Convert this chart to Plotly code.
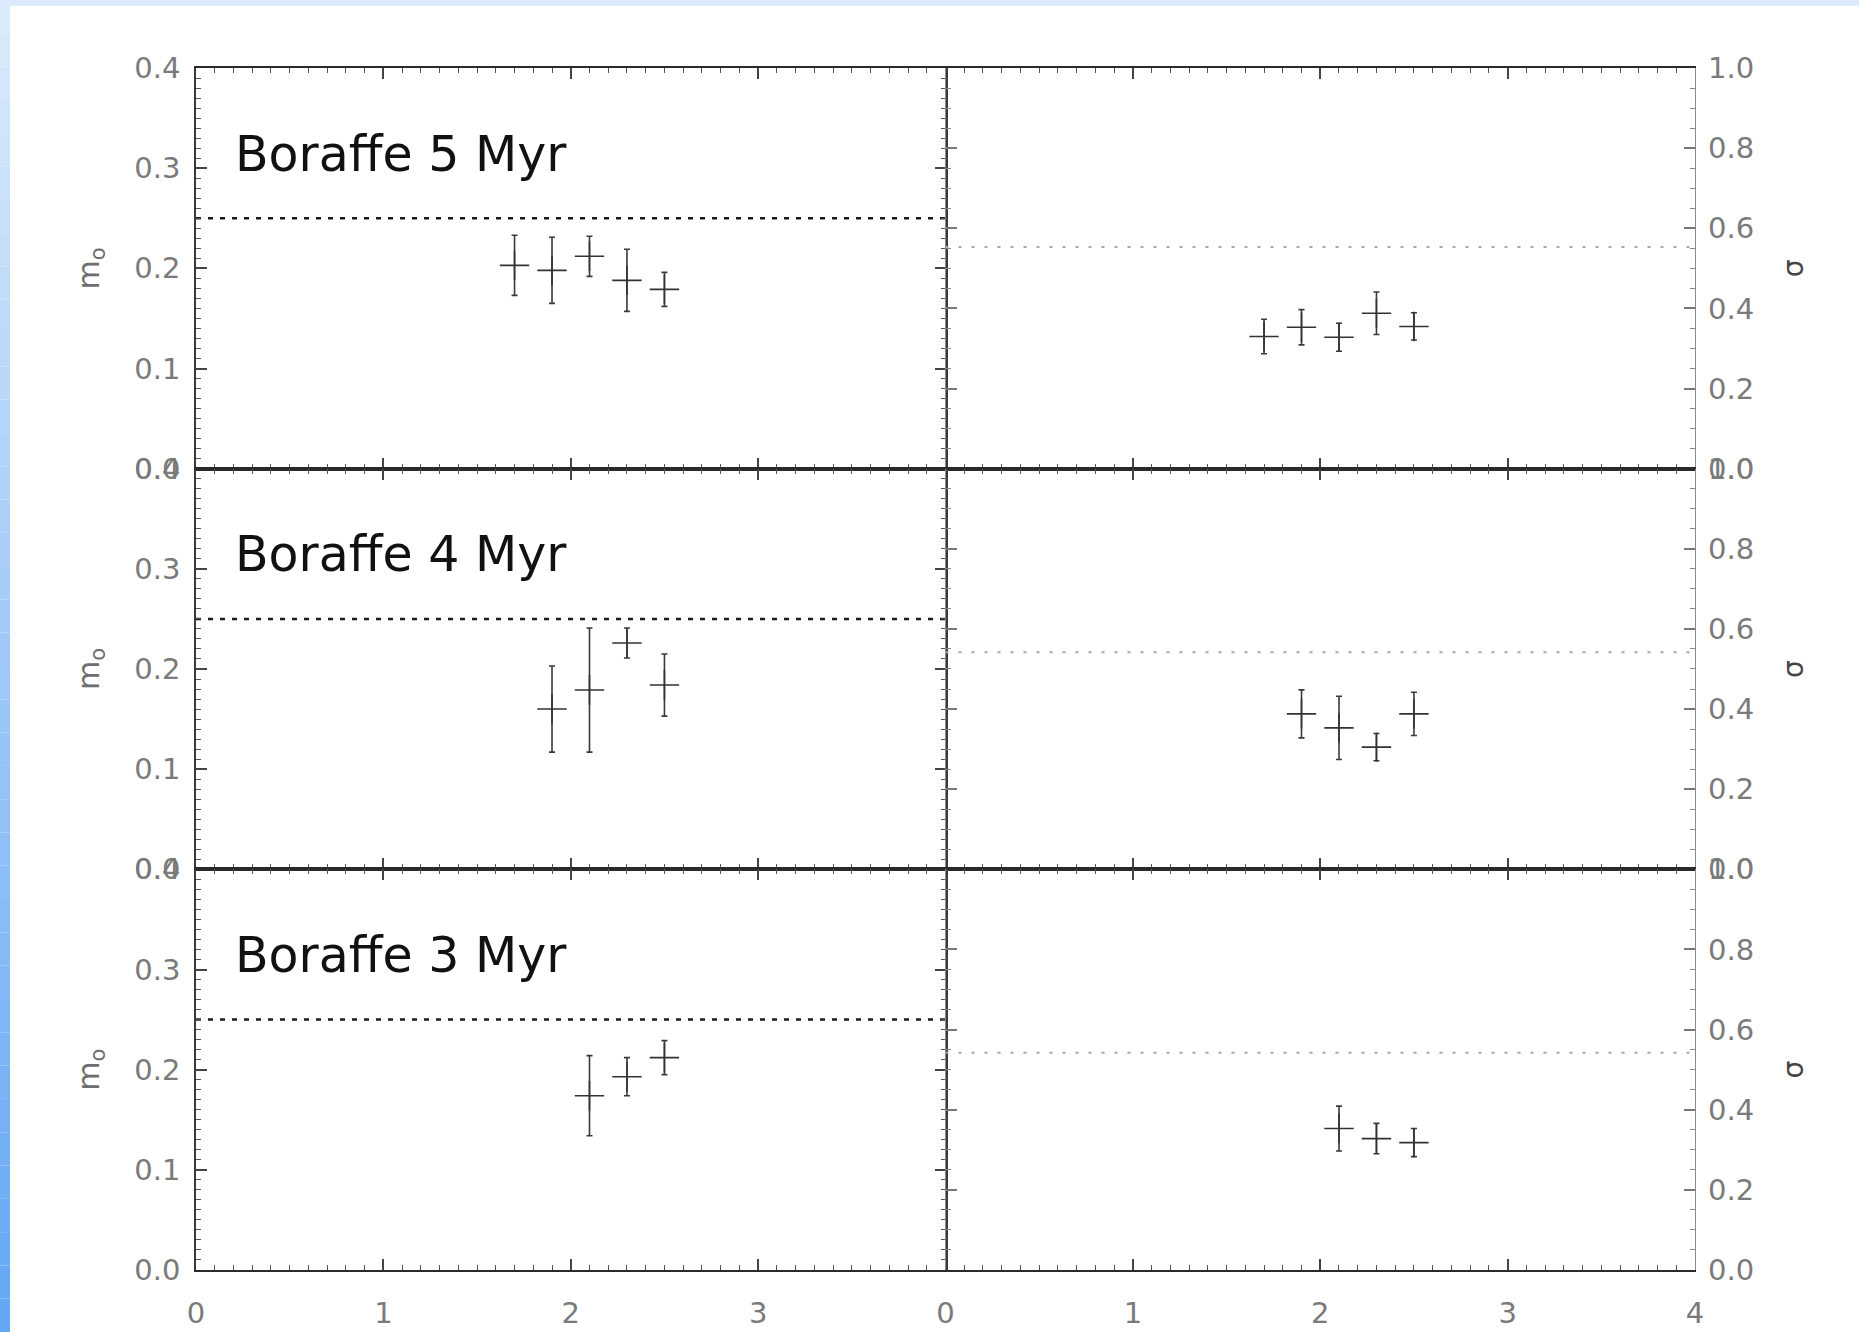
import plotly.graph_objects as go
from plotly.subplots import make_subplots

# ---------------- data ----------------
panel_labels = ["Boraffe 5 Myr", "Boraffe 4 Myr", "Boraffe 3 Myr"]

x_5myr = [1.7, 1.9, 2.1, 2.3, 2.5]
m0_5myr = [0.203, 0.198, 0.212, 0.188, 0.179]
m0_err_5myr = [0.030, 0.033, 0.020, 0.031, 0.017]
sig_5myr = [0.330, 0.353, 0.328, 0.388, 0.355]
sig_err_5myr = [0.043, 0.044, 0.035, 0.053, 0.034]

x_4myr = [1.9, 2.1, 2.3, 2.5]
m0_4myr = [0.160, 0.179, 0.226, 0.184]
m0_err_4myr = [0.043, 0.062, 0.015, 0.031]
sig_4myr = [0.388, 0.353, 0.305, 0.388]
sig_err_4myr = [0.060, 0.079, 0.034, 0.054]

x_3myr = [2.1, 2.3, 2.5]
m0_3myr = [0.174, 0.193, 0.212]
m0_err_3myr = [0.040, 0.019, 0.017]
sig_3myr = [0.353, 0.328, 0.318]
sig_err_3myr = [0.056, 0.038, 0.035]

m0_ref = [0.25, 0.25, 0.25]
sig_ref = [0.553, 0.542, 0.542]

x_range = [0, 4]
m0_range = [0, 0.4]
sig_range = [0, 1.0]
left_xticks = [0, 1, 2, 3]
right_xticks = [0, 1, 2, 3, 4]
m0_title = "m<sub>o</sub>"
sig_title = "σ"

rows = [
    (x_5myr, m0_5myr, m0_err_5myr, sig_5myr, sig_err_5myr),
    (x_4myr, m0_4myr, m0_err_4myr, sig_4myr, sig_err_4myr),
    (x_3myr, m0_3myr, m0_err_3myr, sig_3myr, sig_err_3myr),
]

# ---------------- figure ----------------
W, H = 1859, 1332
ML, MR, MT, MB = 196, 164, 68, 62
PW, PH = W - ML - MR, H - MT - MB

fig = make_subplots(rows=3, cols=2, horizontal_spacing=0, vertical_spacing=0)

DARK = "#2a2a2a"
tickfont = dict(family="DejaVu Sans, sans-serif", size=29, color="#7a7a7a")

for i, (xs, m0, m0e, sg, sge) in enumerate(rows):
    r = i + 1
    fig.add_trace(go.Scatter(x=x_range, y=[m0_ref[i]] * 2, mode="lines",
                             line=dict(color="#1a1a1a", width=2.5, dash="5px,7px"),
                             showlegend=False, hoverinfo="skip"), row=r, col=1)
    fig.add_trace(go.Scatter(x=x_range, y=[sig_ref[i]] * 2, mode="lines",
                             line=dict(color="#a8a8a8", width=2, dash="3px,10px"),
                             showlegend=False, hoverinfo="skip"), row=r, col=2)
    fig.add_trace(go.Scatter(x=xs, y=m0, mode="markers",
                             marker=dict(symbol="cross-thin", size=21, color="#333",
                                         line=dict(color="#333", width=1.6)),
                             error_y=dict(type="data", array=m0e, visible=True,
                                          color="#3a3a3a", thickness=1.6, width=3),
                             showlegend=False), row=r, col=1)
    fig.add_trace(go.Scatter(x=xs, y=sg, mode="markers",
                             marker=dict(symbol="cross-thin", size=21, color="#333",
                                         line=dict(color="#333", width=1.6)),
                             error_y=dict(type="data", array=sge, visible=True,
                                          color="#3a3a3a", thickness=1.6, width=3),
                             showlegend=False), row=r, col=2)

    bottom = (r == 3)
    for c in (1, 2):
        fig.update_xaxes(
            range=x_range, tickmode="array",
            tickvals=left_xticks if c == 1 else right_xticks,
            ticks="inside", ticklen=11, tickwidth=1.5, tickcolor="#444",
            showline=True, linecolor=DARK, linewidth=2, mirror="ticks",
            showgrid=False, zeroline=False, automargin=False,
            minor=dict(dtick=0.1, tick0=0, ticks="inside", ticklen=5,
                       tickwidth=1, tickcolor="#555", showgrid=False),
            showticklabels=bottom, tickfont=tickfont, ticklabelstandoff=16,
            row=r, col=c)
    fig.update_yaxes(
        range=m0_range, dtick=0.1, tick0=0, tickformat=".1f",
        ticks="inside", ticklen=11, tickwidth=1.5, tickcolor="#444",
        showline=True, linecolor="#3a3a3a", linewidth=1.6, mirror="ticks",
        showgrid=False, zeroline=False, automargin=False,
        minor=dict(dtick=0.01, tick0=0, ticks="inside", ticklen=5,
                   tickwidth=1, tickcolor="#555", showgrid=False),
        tickfont=tickfont, ticklabelstandoff=8,
        title=dict(text=m0_title, standoff=26,
                   font=dict(family="DejaVu Sans", size=30, color="#6e6e6e")),
        row=r, col=1)
    fig.update_yaxes(
        range=sig_range, dtick=0.2, tick0=0, tickformat=".1f", side="right",
        ticks="inside", ticklen=11, tickwidth=1.5, tickcolor="#777",
        showline=True, linecolor="#8a8a8a", linewidth=1.4, mirror="ticks",
        showgrid=False, zeroline=False, automargin=False,
        minor=dict(dtick=0.05, tick0=0, ticks="inside", ticklen=5,
                   tickwidth=1, tickcolor="#888", showgrid=False),
        tickfont=tickfont, ticklabelstandoff=6,
        title=dict(text=sig_title, standoff=30,
                   font=dict(family="DejaVu Sans", size=28, color="#444")),
        row=r, col=2)

yl = ["y", "y3", "y5"]
xl = ["x", "x3", "x5"]
for i in range(3):
    fig.add_annotation(x=0.2, y=0.314, xref=xl[i], yref=yl[i], text=panel_labels[i],
                       showarrow=False, xanchor="left", yanchor="middle",
                       font=dict(family="DejaVu Sans", size=49, color="#111"))

def px_x(px):
    return (px - ML) / PW

def px_y(py):
    return (H - MB - py) / PH

shapes = []
shapes.append(dict(type="rect", xref="paper", yref="paper", layer="below",
                   x0=px_x(0), x1=px_x(W), y0=px_y(6), y1=px_y(0),
                   line=dict(width=0), fillcolor="rgb(220,235,251)"))
n = 40
top_c = (218, 234, 251)
bot_c = (100, 168, 245)
for k in range(n):
    t = k / (n - 1)
    col = tuple(int(top_c[j] + (bot_c[j] - top_c[j]) * t) for j in range(3))
    y0p = H * k / n
    y1p = H * (k + 1) / n
    shapes.append(dict(type="rect", xref="paper", yref="paper", layer="below",
                       x0=px_x(0), x1=px_x(10), y0=px_y(y1p), y1=px_y(y0p),
                       line=dict(width=0), fillcolor="rgb(%d,%d,%d)" % col))

fig.update_layout(
    width=W, height=H,
    margin=dict(l=ML, r=MR, t=MT, b=MB, autoexpand=False),
    paper_bgcolor="white", plot_bgcolor="white",
    shapes=shapes, showlegend=False,
)

fig.write_html("out.html", config={"displayModeBar": False},
               post_script="document.body.style.margin='0';document.body.style.overflow='hidden';")
